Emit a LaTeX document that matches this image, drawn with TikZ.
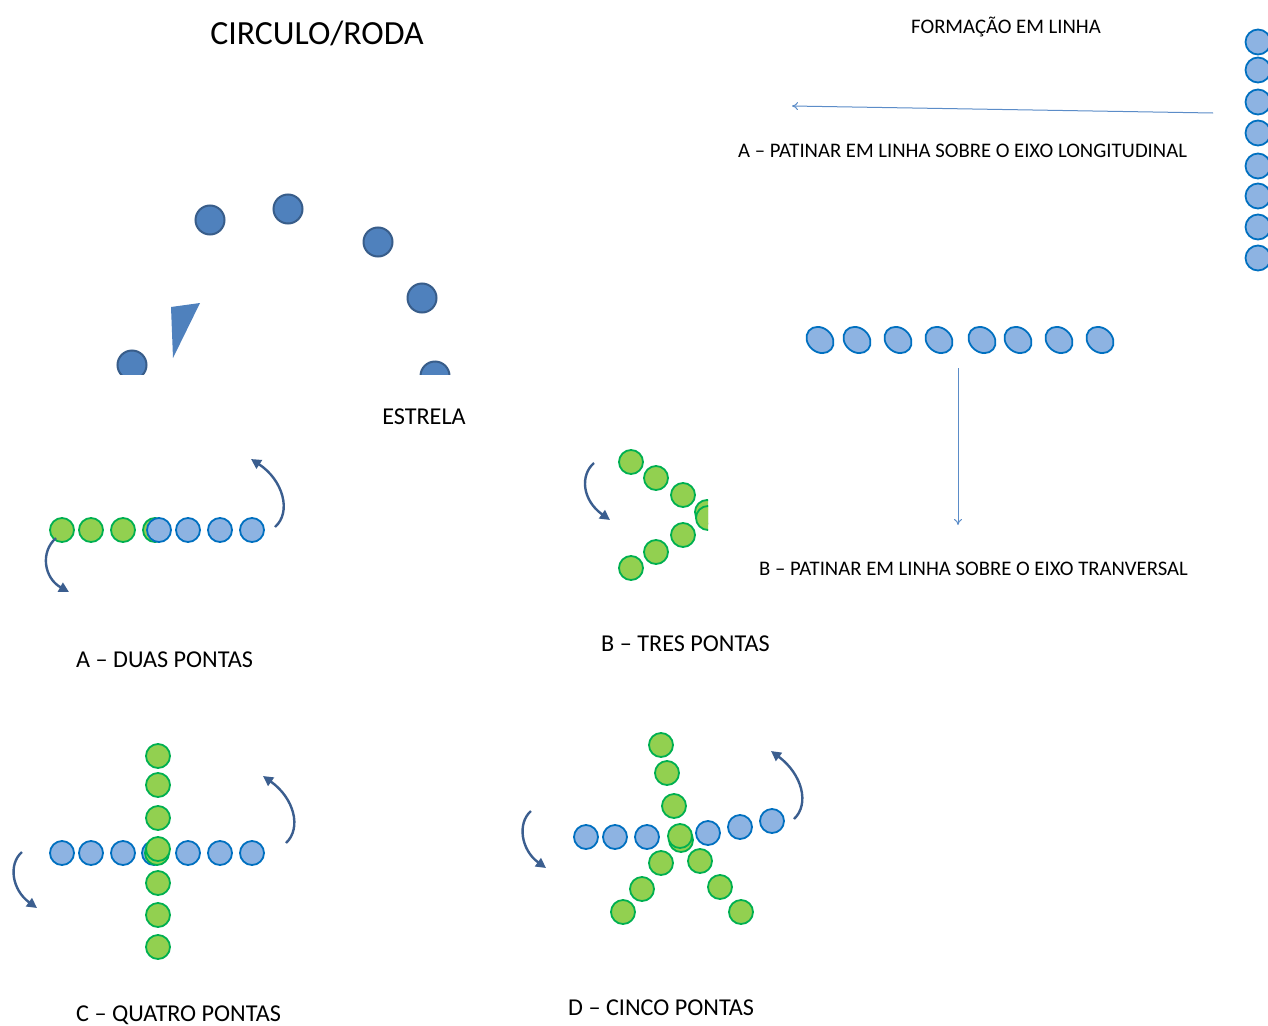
\documentclass[tikz,border=0pt]{standalone}
\usepackage{fontspec}
\setmainfont{Carlito}
\usetikzlibrary{arrows.meta,shapes.geometric}
\definecolor{dkfill}{HTML}{4F81BD}
\definecolor{dkline}{HTML}{385D8A}
\definecolor{blfill}{HTML}{8DB3E2}
\definecolor{blline}{HTML}{0070C0}
\definecolor{grfill}{HTML}{92D050}
\definecolor{grline}{HTML}{00B050}
\definecolor{arrowc}{HTML}{3B5E8F}
\definecolor{thinc}{HTML}{5B8CC8}
\begin{document}
\begin{tikzpicture}[x=1pt,y=-1pt,
  dk/.style={circle,draw=dkline,fill=dkfill,line width=2pt,minimum size=29pt,inner sep=0pt},
  bl/.style={circle,draw=blline,fill=blfill,line width=1.8pt,minimum size=24pt,inner sep=0pt},
  gr/.style={circle,draw=grline,fill=grfill,line width=1.8pt,minimum size=24pt,inner sep=0pt},
  ell/.style={ellipse,draw=blline,fill=blfill,line width=1.8pt,minimum width=29pt,minimum height=24pt,inner sep=0pt,rotate=-40},
  turn/.style={-{Triangle[length=10pt,width=10pt]},line width=2.4pt,draw=arrowc},
  thin/.style={-{To[length=6pt,width=8pt]},line width=1pt,draw=thinc},
  lbl/.style={font=\fontsize{20.7}{22}\selectfont,inner sep=0pt,anchor=west},
  big/.style={font=\fontsize{24.2}{26}\selectfont,inner sep=0pt,anchor=west},
]
\useasboundingbox[fill=white] (0,0) rectangle (1268,1025);

% ---- titles and labels
\node[font=\fontsize{33.8}{36}\selectfont,inner sep=0pt] (t1) at (317,33) {CIRCULO/RODA};
\node[font=\fontsize{20.7}{22}\selectfont,inner sep=0pt] (t2) at (1006,27) {FORMAÇÃO EM LINHA};
\node[lbl] (t3) at (738,151) {A – PATINAR EM LINHA SOBRE O EIXO LONGITUDINAL};
\node[font=\fontsize{24.2}{26}\selectfont,inner sep=0pt] (t4) at (424,417) {ESTRELA};
\node[lbl] (t5) at (759,569) {B – PATINAR EM LINHA SOBRE O EIXO TRANVERSAL};
\node[big] (t6) at (76,660) {A – DUAS PONTAS};
\node[big] (t7) at (601,644) {B – TRES PONTAS};
\node[big] (t8) at (76,1015) {C – QUATRO PONTAS};
\node[big] (t9) at (568,1008) {D – CINCO PONTAS};

% ---- circle / roda (cut)
\begin{scope}
\clip (0,0) rectangle (500,374);
\node[dk] (r1) at (210,220) {};
\node[dk] (r2) at (288,209) {};
\node[dk] (r3) at (378,242) {};
\node[dk] (r4) at (422,298) {};
\node[dk] (r5) at (132,365) {};
\node[dk] (r6) at (435,376) {};
\fill[dkfill] (171,307) -- (200,303) -- (173,358) -- cycle;
\end{scope}

% ---- formacao em linha (right column, cut at edge)
\begin{scope}
\clip (1200,0) rectangle (1268,300);
\foreach \y [count=\i] in {42,70,102,133,166,196,227,258}
  \node[bl,minimum width=24pt,minimum height=25pt,circle] (c\i) at (1258,\y) {};
\end{scope}
\coordinate (aS) at (1213,113);
\coordinate (aE) at (792,106);
\draw[thin] (aS) -- (aE);

% ---- horizontal row of ellipses
\foreach \x [count=\i] in {820,857,898,939,982,1018,1059,1100}
  \node[ell] (e\i) at (\x,340) {};
\coordinate (bS) at (958,368);
\coordinate (bE) at (958,525);
\draw[thin] (bS) -- (bE);

% ---- A duas pontas
\node[gr] (a1) at (62,530) {};
\node[gr] (a2) at (91,530) {};
\node[gr] (a3) at (123,530) {};
\node[gr] (a4) at (155,530) {};
\node[bl] (a5) at (159,530) {};
\node[bl] (a6) at (188,530) {};
\node[bl] (a7) at (220,530) {};
\node[bl] (a8) at (252,530) {};
\coordinate (ar1s) at (275,527);
\coordinate (ar1e) at (251,459);
\draw[turn] (ar1s) .. controls (292,512) and (283,480) .. (ar1e);
\coordinate (ar2s) at (56,538);
\coordinate (ar2e) at (69,592);
\draw[turn] (ar2s) .. controls (40,552) and (44,578) .. (ar2e);

% ---- B tres pontas (cut)
\begin{scope}
\clip (560,430) rectangle (708,600);
\node[gr] (b1) at (631,462) {};
\node[gr] (b2) at (656,478) {};
\node[gr] (b3) at (683,495) {};
\node[gr] (b4) at (707,512) {};
\node[gr] (b4b) at (708,518) {};
\node[gr] (b5) at (683,535) {};
\node[gr] (b6) at (656,552) {};
\node[gr] (b7) at (631,568) {};
\end{scope}
\coordinate (ar3s) at (594,463);
\coordinate (ar3e) at (610,520);
\draw[turn] (ar3s) .. controls (580,475) and (582,500) .. (ar3e);

% ---- C quatro pontas
\node[bl] (q1) at (62,853) {};
\node[bl] (q2) at (91,853) {};
\node[bl] (q3) at (123,853) {};
\node[bl] (q4) at (154,853) {};
\node[bl] (q5) at (188,853) {};
\node[bl] (q6) at (220,853) {};
\node[bl] (q7) at (252,853) {};
\node[gr] (v1) at (158,756) {};
\node[gr] (v2) at (158,785) {};
\node[gr] (v3) at (158,818) {};
\node[gr] (v4b) at (157,853) {};
\node[gr] (v4) at (158,849) {};
\node[gr] (v5) at (158,883) {};
\node[gr] (v6) at (158,915) {};
\node[gr] (v7) at (158,947) {};
\coordinate (ar4s) at (286,843);
\coordinate (ar4e) at (263,776);
\draw[turn] (ar4s) .. controls (302,828) and (294,798) .. (ar4e);
\coordinate (ar5s) at (22,852);
\coordinate (ar5e) at (37,908);
\draw[turn] (ar5s) .. controls (8,864) and (12,890) .. (ar5e);

% ---- D cinco pontas
\node[bl] (d1) at (586,837) {};
\node[bl] (d2) at (615,837) {};
\node[bl] (d3) at (647,837) {};
\node[bl] (d5) at (708,833) {};
\node[bl] (d6) at (740,827) {};
\node[bl] (d7) at (772,821) {};
\node[gr] (g1) at (661,745) {};
\node[gr] (g2) at (667,773) {};
\node[gr] (g3) at (674,806) {};
\node[gr] (g4b) at (681,840) {};
\node[gr] (g4) at (680,836) {};
\node[gr] (g5) at (661,863) {};
\node[gr] (g6) at (642,889) {};
\node[gr] (g7) at (623,912) {};
\node[gr] (g8) at (700,861) {};
\node[gr] (g9) at (720,887) {};
\node[gr] (g10) at (741,912) {};
\coordinate (ar6s) at (794,819) ;
\coordinate (ar6e) at (771,751);
\draw[turn] (ar6s) .. controls (810,804) and (802,774) .. (ar6e);
\coordinate (ar7s) at (531,811);
\coordinate (ar7e) at (546,868);
\draw[turn] (ar7s) .. controls (517,823) and (521,850) .. (ar7e);
\end{tikzpicture}
\end{document}
